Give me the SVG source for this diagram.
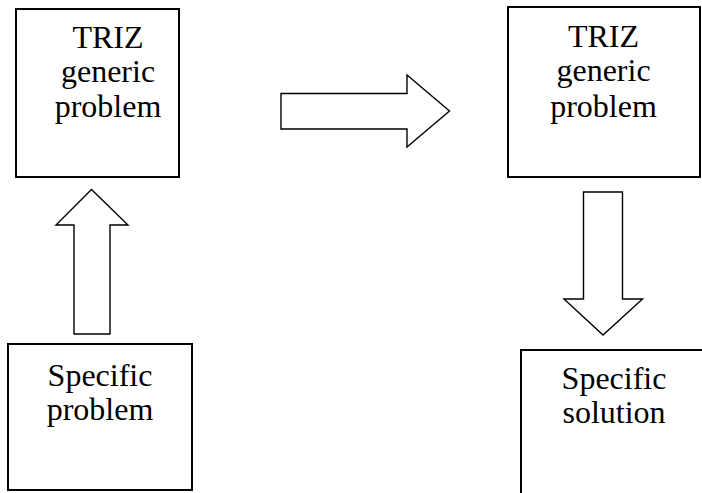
<svg xmlns="http://www.w3.org/2000/svg" width="702" height="493" viewBox="0 0 702 493">
<style>
.box{fill:#fff;stroke:#000;stroke-width:2}
.arr{fill:#fff;stroke:#000;stroke-width:1.4;stroke-linejoin:miter}
text{font-family:"Liberation Serif","Times New Roman",serif;font-size:32px;fill:#000;text-anchor:middle}
</style>
<rect width="702" height="493" fill="#fff"/>
<g id="connectors">
<polygon class="arr" points="281,93.5 407,93.5 407,75 449.5,111 407,147 407,129 281,129"/>
<polygon class="arr" points="91.5,189.5 128,225 110,225 110,334 74,334 74,225 56,225"/>
<polygon class="arr" points="583.5,192 622.5,192 622.5,299 642.5,299 603,335 564,299 583.5,299"/>
</g>
<g id="node-triz-left">
<rect class="box" x="16" y="9" width="163" height="168"/>
<text x="108" y="47.5">TRIZ</text>
<text x="108" y="81.5">generic</text>
<text x="108" y="116.5">problem</text>
</g>
<g id="node-triz-right">
<rect class="box" x="508" y="7" width="192" height="170"/>
<text x="603.5" y="46.5">TRIZ</text>
<text x="603.5" y="81">generic</text>
<text x="603.5" y="116.5">problem</text>
</g>
<g id="node-specific-problem">
<rect class="box" x="8" y="344" width="184" height="146"/>
<text x="100" y="385.5">Specific</text>
<text x="100" y="420">problem</text>
</g>
<g id="node-specific-solution">
<rect class="box" x="521" y="350" width="200" height="160"/>
<text x="614" y="389">Specific</text>
<text x="614" y="423">solution</text>
</g>
</svg>
